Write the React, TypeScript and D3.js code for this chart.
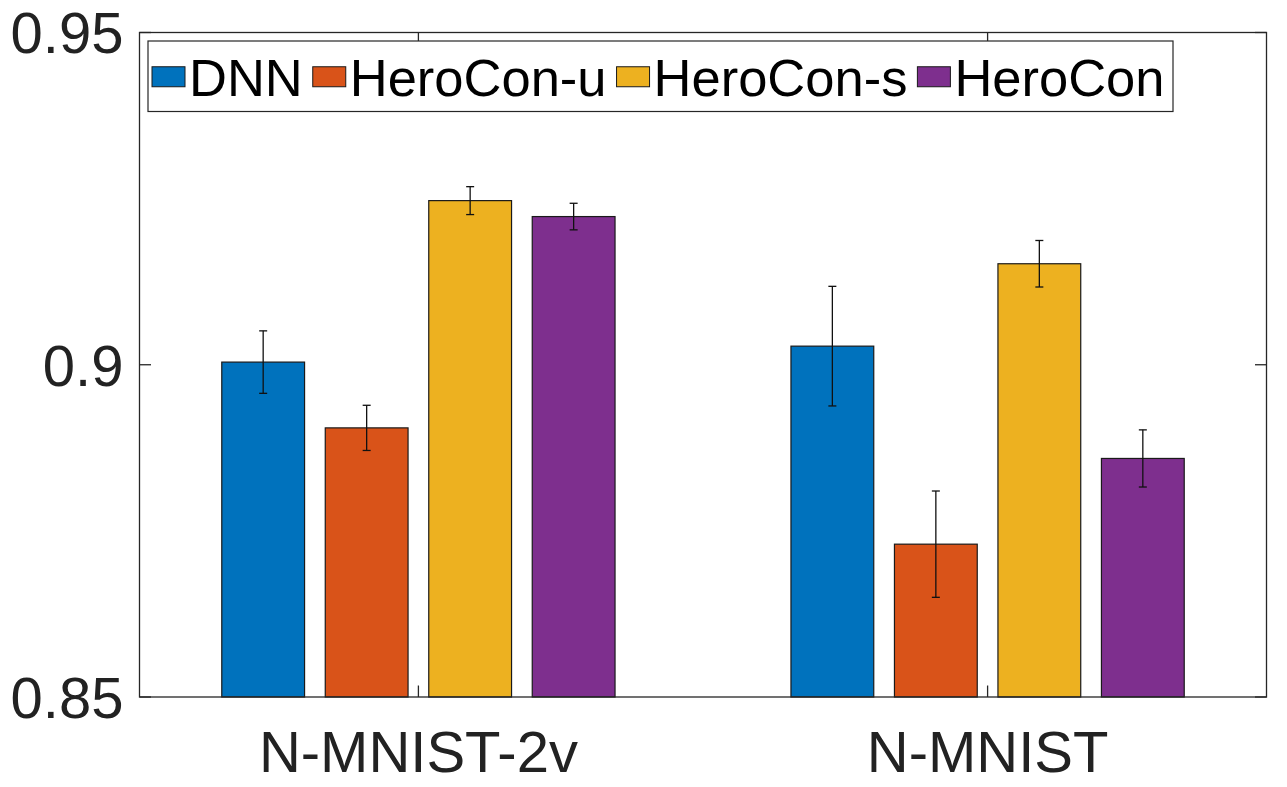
import React, { useEffect, useRef } from "react";
import * as d3 from "d3";

const categories = ["N-MNIST-2v", "N-MNIST"];
const seriesNames = ["DNN", "HeroCon-u", "HeroCon-s", "HeroCon"];
const seriesColors = ["#0072BD", "#D95319", "#EDB120", "#7E2F8E"];
const dnnValues = [0.9004, 0.9028];
const heroconUValues = [0.8905, 0.8730];
const heroconSValues = [0.9247, 0.9152];
const heroconValues = [0.9223, 0.8859];
const dnnErr = [0.0047, 0.0090];
const heroconUErr = [0.0034, 0.0080];
const heroconSErr = [0.0021, 0.0035];
const heroconErr = [0.0020, 0.0043];
const yTicks = [0.85, 0.9, 0.95];
const yTickLabels = ["0.85", "0.9", "0.95"];

const W = 1287;
const H = 787;
const FONT = "'Liberation Sans', Arial, Helvetica, sans-serif";

export default function App() {
  const ref = useRef<SVGSVGElement | null>(null);

  useEffect(() => {
    document.body.style.margin = "0";
    const svg = d3.select(ref.current);
    svg.selectAll("*").remove();

    const left = 139.5, right = 1266.5, top = 32.5, bottom = 697;
    const x = d3.scaleLinear().domain([0.51, 2.49]).range([left, right]);
    const y = d3.scaleLinear().domain([0.85, 0.95]).range([bottom, top]);

    const values = [dnnValues, heroconUValues, heroconSValues, heroconValues];
    const errs = [dnnErr, heroconUErr, heroconSErr, heroconErr];
    const nS = seriesNames.length;
    const groupWidth = Math.min(0.8, nS / (nS + 1.5));
    const spacing = groupWidth / nS;
    const barW = spacing * 0.8;

    const data: { g: number; s: number; v: number; e: number }[] = [];
    categories.forEach((_, g) =>
      seriesNames.forEach((_, s) => data.push({ g, s, v: values[s][g], e: errs[s][g] }))
    );
    const cx = (d: { g: number; s: number }) => d.g + 1 + (d.s - (nS - 1) / 2) * spacing;

    // bars
    svg
      .append("g")
      .selectAll("rect")
      .data(data)
      .join("rect")
      .attr("x", (d) => x(cx(d) - barW / 2))
      .attr("width", (d) => x(cx(d) + barW / 2) - x(cx(d) - barW / 2))
      .attr("y", (d) => y(d.v))
      .attr("height", (d) => bottom - y(d.v))
      .attr("fill", (d) => seriesColors[d.s])
      .attr("stroke", "#1a1a1a")
      .attr("stroke-width", 1.2);

    // error bars
    const eg = svg.append("g").attr("stroke", "#111").attr("stroke-width", 1.3);
    data.forEach((d) => {
      const px = x(cx(d));
      eg.append("line").attr("x1", px).attr("x2", px).attr("y1", y(d.v - d.e)).attr("y2", y(d.v + d.e));
      [d.v - d.e, d.v + d.e].forEach((yy) =>
        eg.append("line").attr("x1", px - 4).attr("x2", px + 4).attr("y1", y(yy)).attr("y2", y(yy))
      );
    });

    // axes box
    const axCol = "#262626";
    svg
      .append("rect")
      .attr("x", left)
      .attr("y", top)
      .attr("width", right - left)
      .attr("height", bottom - top)
      .attr("fill", "none")
      .attr("stroke", axCol)
      .attr("stroke-width", 1.3);

    const tickLen = 11.5;
    const tg = svg.append("g").attr("stroke", axCol).attr("stroke-width", 1.3);
    yTicks.forEach((t) => {
      tg.append("line").attr("x1", left).attr("x2", left + tickLen).attr("y1", y(t)).attr("y2", y(t));
      tg.append("line").attr("x1", right).attr("x2", right - tickLen).attr("y1", y(t)).attr("y2", y(t));
    });
    categories.forEach((_, i) => {
      const px = x(i + 1);
      tg.append("line").attr("x1", px).attr("x2", px).attr("y1", bottom).attr("y2", bottom - tickLen);
      tg.append("line").attr("x1", px).attr("x2", px).attr("y1", top).attr("y2", top + tickLen);
    });

    // y tick labels
    svg
      .append("g")
      .selectAll("text")
      .data(yTicks)
      .join("text")
      .attr("x", left - 16)
      .attr("y", (t) => y(t))
      .attr("dy", "0.36em")
      .attr("text-anchor", "end")
      .attr("font-family", FONT)
      .attr("font-size", 58)
      .attr("fill", "#222")
      .text((_, i) => yTickLabels[i]);

    // x tick labels
    svg
      .append("g")
      .selectAll("text")
      .data(categories)
      .join("text")
      .attr("x", (_, i) => x(i + 1))
      .attr("y", 772)
      .attr("text-anchor", "middle")
      .attr("font-family", FONT)
      .attr("font-size", 58)
      .attr("fill", "#222")
      .text((d) => d);

    // legend
    const lg = svg.append("g");
    const lx0 = 148, ly0 = 41, lx1 = 1173, ly1 = 111.5;
    lg.append("rect")
      .attr("x", lx0)
      .attr("y", ly0)
      .attr("width", lx1 - lx0)
      .attr("height", ly1 - ly0)
      .attr("fill", "#fff")
      .attr("stroke", axCol)
      .attr("stroke-width", 1.2);
    let cur = 152;
    const midY = (ly0 + ly1) / 2 + 0.5;
    seriesNames.forEach((name, i) => {
      lg.append("rect")
        .attr("x", cur)
        .attr("y", midY - 10)
        .attr("width", 33)
        .attr("height", 20)
        .attr("fill", seriesColors[i])
        .attr("stroke", "#1a1a1a")
        .attr("stroke-width", 1);
      const t = lg
        .append("text")
        .attr("x", cur + 37)
        .attr("y", midY + 19)
        .attr("font-family", FONT)
        .attr("font-size", 52.5)
        .attr("fill", "#000")
        .text(name);
      const w = (t.node() as SVGTextElement).getComputedTextLength();
      cur = cur + 37 + w + 10;
    });
  }, []);

  return (
    <svg
      ref={ref}
      width={W}
      height={H}
      style={{ position: "absolute", left: 0, top: 0, display: "block", background: "#fff" }}
    />
  );
}
